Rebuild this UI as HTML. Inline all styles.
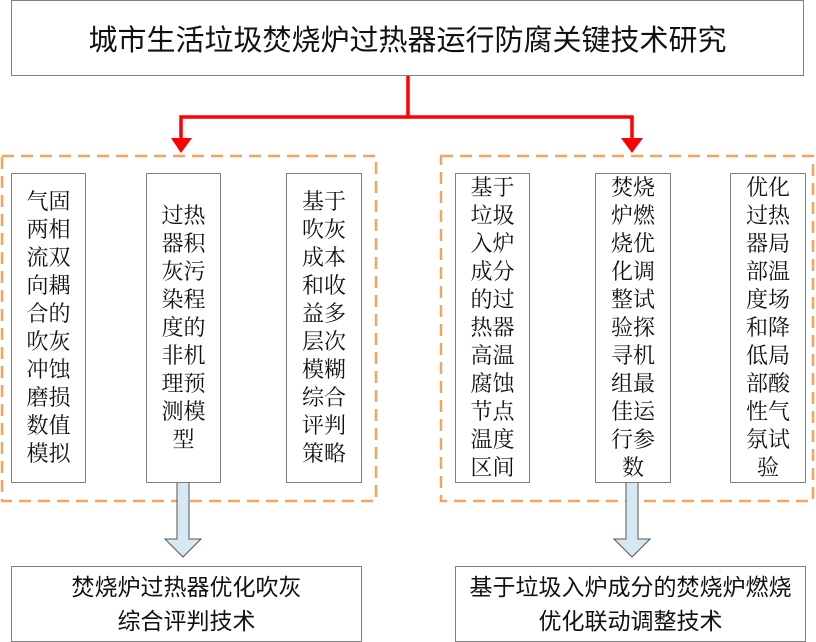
<!DOCTYPE html>
<html><head><meta charset="utf-8"><style>
body{margin:0;width:816px;height:642px;background:#fff;position:relative;overflow:hidden;font-family:"Liberation Serif","Noto Serif CJK SC","Noto Sans CJK SC",serif;color:#111}
.b{position:absolute;border:1.5px solid #7f7f7f;box-sizing:border-box;background:#fff}
.v{display:flex;align-items:center;justify-content:center}
.v span{width:46px;font-size:22px;line-height:28px;text-align:center;word-break:break-all}
.t{display:flex;align-items:center;justify-content:center;text-align:center;font-family:"Liberation Sans","Noto Sans CJK SC",sans-serif}
</style></head><body>
<div class="b t" style="left:11px;top:0;width:793px;height:76px;font-size:29px">城市生活垃圾焚烧炉过热器运行防腐关键技术研究</div>
<svg width="816" height="642" style="position:absolute;left:0;top:0">
<path d="M408 76V117H181V140M408 117H632V140" stroke="#f00" stroke-width="3.5" fill="none"/>
<path d="M171 138H192L181 153Z M621 138H643L632 153Z" fill="#f00"/>
<rect x="2" y="156" width="374" height="345" fill="none" stroke="#f4a460" stroke-width="2.5" stroke-dasharray="12,7"/>
<rect x="441" y="156" width="372" height="345" fill="none" stroke="#f4a460" stroke-width="2.5" stroke-dasharray="12,7"/>
<path d="M177 482V539H165L183 557L201 539H189V482Z" fill="#d6e9f2" stroke="#555" stroke-width="1"/>
<path d="M626 482V539H614L632 557L650 539H638V482Z" fill="#d6e9f2" stroke="#555" stroke-width="1"/>
</svg>
<div class="b v" style="left:11px;top:173px;width:75px;height:310px"><span>气固两相流双向耦合的吹灰冲蚀磨损数值模拟</span></div>
<div class="b v" style="left:146px;top:173px;width:75px;height:310px"><span>过热器积灰污染程度的非机理预测模型</span></div>
<div class="b v" style="left:286px;top:173px;width:76px;height:310px"><span>基于吹灰成本和收益多层次模糊综合评判策略</span></div>
<div class="b v" style="left:455px;top:173px;width:75px;height:310px"><span>基于垃圾入炉成分的过热器高温腐蚀节点温度区间</span></div>
<div class="b v" style="left:595px;top:173px;width:76px;height:310px"><span>焚烧炉燃烧优化调整试验探寻机组最佳运行参数</span></div>
<div class="b v" style="left:730px;top:173px;width:76px;height:310px"><span>优化过热器局部温度场和降低局部酸性气氛试验</span></div>
<div class="b t" style="left:11px;top:566px;width:351px;height:76px;font-size:23px;line-height:34px">焚烧炉过热器优化吹灰<br>综合评判技术</div>
<div class="b t" style="left:455px;top:566px;width:351px;height:76px;font-size:23px;line-height:34px">基于垃圾入炉成分的焚烧炉燃烧<br>优化联动调整技术</div>
</body></html>
